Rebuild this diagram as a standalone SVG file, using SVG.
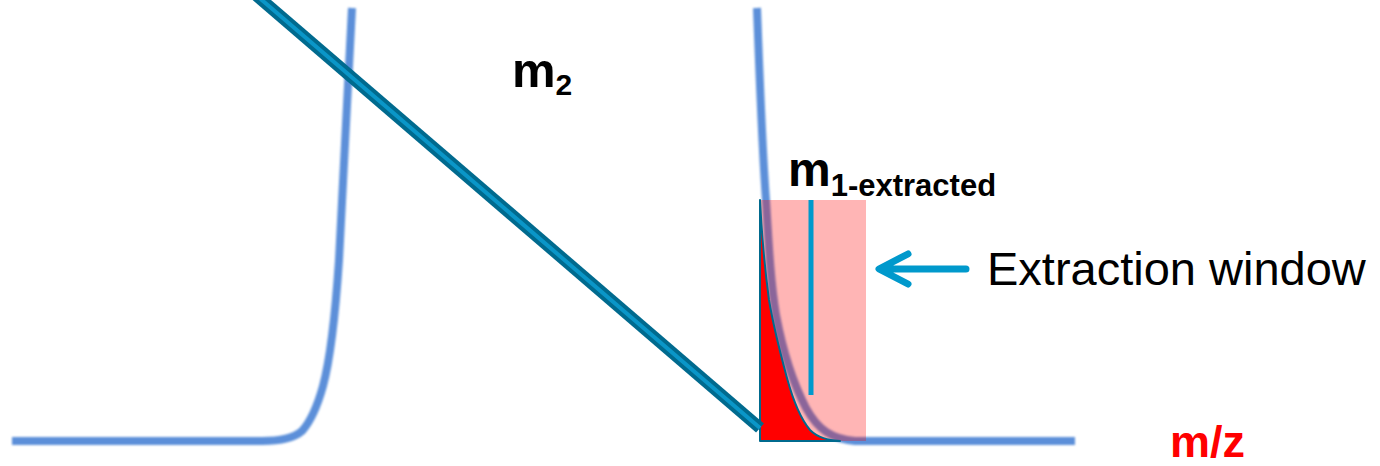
<svg xmlns="http://www.w3.org/2000/svg" width="1380" height="466" viewBox="0 0 1380 466">
  <style>
    .peak { fill: none; stroke: #5B8FD9; stroke-width: 8; stroke-linecap: butt; stroke-linejoin: round; }
    .lbl { font-family: "Liberation Sans", Arial, sans-serif; font-weight: bold; fill: #000; }
    .arrow { fill: none; stroke: #0099CC; stroke-width: 7; stroke-linecap: round; stroke-linejoin: round; }
  </style>
  <defs>
    <filter id="soft" x="-10%" y="-10%" width="120%" height="120%">
      <feGaussianBlur stdDeviation="1.1"/>
    </filter>
  </defs>
  <rect width="1380" height="466" fill="#FFFFFF"/>

  <g id="spectrum" filter="url(#soft)">
    <path class="peak" d="M12,441 L262,441 C282,441 294,438 302,431 C312,420 318,404 323,386 C330,360 335,320 339,260 C343,190 347,100 352,8"/>
    <path class="peak" d="M757,8 C760,90 763,160 766,200 C769,250 771,285 776,315 C783,352 794,385 806,408 C818,430 832,439 855,441 L1075,441"/>
  </g>

  <g id="extraction-window">
    <rect x="760" y="200" width="106" height="241" fill="#FF0000" fill-opacity="0.29"/>
    <path d="M760,200 L760,441 L840,441 C828,440 818,438 810,430 C800,418 793,400 787,378 C780,352 774,330 769,300 C765,270 762,240 760,200 Z" fill="#FF0000" stroke="#006A8E" stroke-width="2" stroke-linejoin="round"/>
    <line x1="811" y1="200" x2="811" y2="395" stroke="#0099CC" stroke-width="5"/>
  </g>

  <g id="diagonal">
    <line x1="256" y1="-5" x2="760" y2="428" stroke="#006A8E" stroke-width="12"/>
    <line x1="256" y1="-5" x2="760" y2="428" stroke="#0A96C8" stroke-width="4"/>
  </g>

  <g id="label-m2">
    <text class="lbl" x="512" y="87" font-size="49">m<tspan font-size="30" dy="8">2</tspan></text>
  </g>

  <g id="label-m1">
    <text class="lbl" x="788" y="186" font-size="48">m<tspan font-size="31" dy="10">1-extracted</tspan></text>
  </g>

  <g id="connectors">
    <path class="arrow" d="M966,269 L880,269 M908,254 L879,269 L908,284"/>
  </g>

  <g id="label-window">
    <text x="987" y="285" font-family="Liberation Sans, Arial, sans-serif" font-size="47" fill="#000">Extraction window</text>
  </g>

  <g id="label-mz">
    <text x="1170" y="457" font-family="Liberation Sans, Arial, sans-serif" font-weight="bold" font-size="45" fill="#FF0000">m/z</text>
  </g>
</svg>
